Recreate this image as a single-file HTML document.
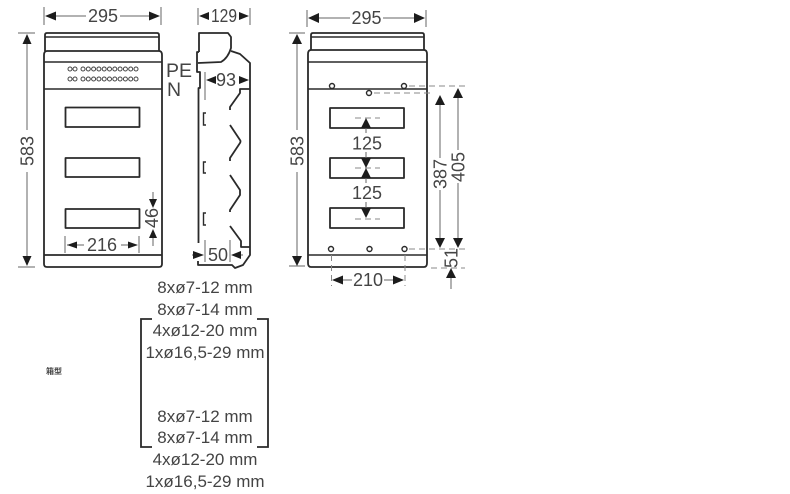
<!DOCTYPE html>
<html><head><meta charset="utf-8"><style>
html,body{margin:0;padding:0;background:#fff;width:790px;height:494px;overflow:hidden}
svg{display:block;filter:blur(.3px)}
text{font-family:"Liberation Sans","Noto Sans CJK SC",sans-serif;fill:#444;text-anchor:middle}
.o{fill:none;stroke:#2a2a2a;stroke-width:1.8;stroke-linejoin:round}
.h{fill:none;stroke:#2a2a2a;stroke-width:1.4}
.d{fill:none;stroke:#666;stroke-width:1}
.da{fill:none;stroke:#888;stroke-width:1;stroke-dasharray:6 4}
.a{fill:#1c1c1c}
.t{font-size:18px}
.m{font-size:17px}
</style></head><body>
<svg width="790" height="494" viewBox="0 0 790 494" xmlns="http://www.w3.org/2000/svg">
<rect width="790" height="494" fill="#fff"/>

<!-- Left view -->
<path class="o" d="M45 51V35Q45 33 47 33H157Q159 33 159 35V51"/>
<path class="h" d="M45 37H159"/>
<path class="o" d="M44 55Q44 51 47 51H159Q162 51 162 55V264Q162 267 159 267H47Q44 267 44 264Z"/>
<path class="h" d="M44 62H162M44 89H162"/>
<path class="o" d="M44 255H162"/>
<rect class="o" x="65.500" y="107.500" width="74" height="19.500"/>
<rect class="o" x="65.500" y="158" width="74" height="19"/>
<rect class="o" x="65.500" y="209" width="74" height="19"/>
<g fill="none" stroke="#444" stroke-width="1">
<circle cx="70" cy="69" r="2"/><circle cx="75" cy="69" r="2"/><circle cx="83" cy="69" r="2"/><circle cx="88.300" cy="69" r="2"/><circle cx="93.600" cy="69" r="2"/><circle cx="98.900" cy="69" r="2"/><circle cx="104.200" cy="69" r="2"/><circle cx="109.500" cy="69" r="2"/><circle cx="114.800" cy="69" r="2"/><circle cx="120.100" cy="69" r="2"/><circle cx="125.400" cy="69" r="2"/><circle cx="130.700" cy="69" r="2"/><circle cx="136" cy="69" r="2"/>
<circle cx="70" cy="79" r="2"/><circle cx="75" cy="79" r="2"/><circle cx="83" cy="79" r="2"/><circle cx="88.300" cy="79" r="2"/><circle cx="93.600" cy="79" r="2"/><circle cx="98.900" cy="79" r="2"/><circle cx="104.200" cy="79" r="2"/><circle cx="109.500" cy="79" r="2"/><circle cx="114.800" cy="79" r="2"/><circle cx="120.100" cy="79" r="2"/><circle cx="125.400" cy="79" r="2"/><circle cx="130.700" cy="79" r="2"/><circle cx="136" cy="79" r="2"/>
</g>
<!-- left dims -->
<path class="d" d="M44 7V25M161 7V25M46 16H86M120 16H158M18 33H35M18 267H35M27 35V130M27 172V265M65 236V253M139 236V253M67 245H84M121 245H137M153 192V202M153 236V246"/>
<polygon class="a" points="45,16 56,11.500 56,20.500"/><polygon class="a" points="160,16 149,11.500 149,20.500"/>
<polygon class="a" points="27,34 22.500,44 31.500,44"/><polygon class="a" points="27,266 22.500,256 31.500,256"/>
<polygon class="a" points="67,245 77,241.500 77,248.500"/><polygon class="a" points="138,245 128,241.500 128,248.500"/>
<polygon class="a" points="153,208 149,199 157,199"/><polygon class="a" points="153,229 149,238 157,238"/>
<text class="t" x="103" y="22">295</text>
<text class="t" x="27" y="151" transform="rotate(-90 27 151)" dy="6.500">583</text>
<text class="t" x="102" y="251">216</text>
<text class="t" x="152" y="218" transform="rotate(-90 152 218)" dy="6">46</text>
<text x="179" y="77" style="font-size:19.500px">PE</text>
<text x="174" y="96" style="font-size:19.500px">N</text>

<!-- Side view -->
<path class="o" d="M199 52V33H228L231 37V48Q228 58 221 62L198 63"/>
<path class="o" d="M199 52H197V72H200V88H198.500V243"/>
<path class="o" d="M231 51L240 54L250 63V255L243 265L235 268L232 265L198 265V261"/>
<path class="o" d="M250 89H240V93L230 107V110M230 125L240 140Q241 141 240 143L230 158V161M230 175L240 190V195L230 210V212M230 226L241 241V247H250"/>
<path class="h" d="M206 113H203.500V125H206M206 162H203.500V173H206M206 213H203.500V225H206"/>
<!-- side dims -->
<path class="d" d="M198 8V25M250 8V25M205 72V100M205 240V262M230 240V262M192 255H198M238 255H243"/>
<polygon class="a" points="199,16 209,12 209,20"/><polygon class="a" points="249,16 239,12 239,20"/>
<polygon class="a" points="206,80 216,76 216,84"/><polygon class="a" points="249,80 239,76 239,84"/>
<polygon class="a" points="204,255 193,251 193,259"/><polygon class="a" points="231,255 241,251 241,259"/>
<text class="t" x="224" y="22" textLength="26" lengthAdjust="spacingAndGlyphs">129</text>
<text class="t" x="226" y="86">93</text>
<text class="t" x="218" y="261">50</text>

<!-- Right view -->
<path class="o" d="M311 50V35Q311 33 313 33H422Q424 33 424 35V50"/>
<path class="h" d="M311 37H424"/>
<path class="o" d="M308 54Q308 50 311 50H424Q427 50 427 54V263Q427 267 424 267H311Q308 267 308 263Z"/>
<path class="h" d="M308 62H427M308 89H427M308 255H427"/>
<rect class="o" x="330" y="108" width="74" height="20"/>
<rect class="o" x="330" y="158" width="74" height="20"/>
<rect class="o" x="330" y="208" width="74" height="20"/>
<g fill="#fff" stroke="#2a2a2a" stroke-width="1.400">
<circle cx="332" cy="86" r="2.500"/><circle cx="369" cy="93" r="2.500"/><circle cx="404" cy="86" r="2.500"/>
<circle cx="331" cy="249" r="2.500"/><circle cx="369.500" cy="249" r="2.500"/><circle cx="404.500" cy="249" r="2.500"/>
</g>
<path class="da" d="M409 86H468M374 93H434M409 249H467M431 268H465M331.500 255V286M405 255V286M355 118H380M355 168H380M355 219H380"/>
<path class="d" d="M307 10V27M426 10V27M309 18H350M383 18H424M289 33H305M289 266H305M297 35V130M297 172V264M366 120V133M366 152V166M366 170V183M366 202V216M333 280H352M384 280H403M440 97V158M440 190V246M458 90V150M458 183V246M451 270V289"/>
<polygon class="a" points="308,18 319,13 319,23"/><polygon class="a" points="425,18 414,13 414,23"/>
<polygon class="a" points="297,34 292,44 302,44"/><polygon class="a" points="297,266 292,256 302,256"/>
<polygon class="a" points="366,118 361,128 371,128"/>
<polygon class="a" points="366,168 361,158 371,158"/>
<polygon class="a" points="366,168 361,178 371,178"/>
<polygon class="a" points="366,218 361,208 371,208"/>
<polygon class="a" points="332,280 343,275.500 343,284.500"/><polygon class="a" points="404,280 393,275.500 393,284.500"/>
<polygon class="a" points="440,95 435,105 445,105"/><polygon class="a" points="440,248 435,238 445,238"/>
<polygon class="a" points="458,88 453,98 463,98"/><polygon class="a" points="458,248 453,238 463,238"/>
<polygon class="a" points="451,268 446,278 456,278"/>
<text class="t" x="366.500" y="24">295</text>
<text class="t" x="297" y="151" transform="rotate(-90 297 151)" dy="6.500">583</text>
<text class="t" x="367" y="149.500">125</text>
<text class="t" x="367" y="199">125</text>
<text class="t" x="368" y="286">210</text>
<text class="t" x="440" y="174" transform="rotate(-90 440 174)" dy="6.500">387</text>
<text class="t" x="458" y="167" transform="rotate(-90 458 167)" dy="6.500">405</text>
<text class="t" x="451" y="258" transform="rotate(-90 451 258)" dy="6.500">51</text>

<!-- Bracket and sizes -->
<path fill="none" stroke="#2a2a2a" stroke-width="1.800" d="M152 319H141V447H152M257 319H268V447H257"/>
<text class="m" x="205" y="293">8xø7-12 mm</text>
<text class="m" x="205" y="315">8xø7-14 mm</text>
<text class="m" x="205" y="336">4xø12-20 mm</text>
<text class="m" x="205" y="358">1xø16,5-29 mm</text>
<text class="m" x="205" y="422">8xø7-12 mm</text>
<text class="m" x="205" y="443">8xø7-14 mm</text>
<text class="m" x="205" y="465">4xø12-20 mm</text>
<text class="m" x="205" y="487">1xø16,5-29 mm</text>

<text x="54" y="374" style="font-size:8px;font-weight:bold">箱型</text>
</svg>
</body></html>
